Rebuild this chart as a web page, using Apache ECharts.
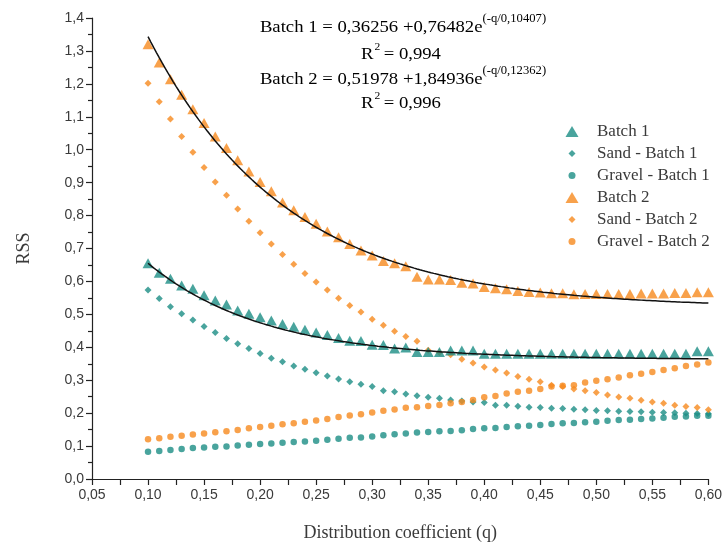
<!DOCTYPE html>
<html>
<head>
<meta charset="utf-8">
<script src="https://cdn.jsdelivr.net/npm/echarts@6/dist/echarts.min.js"></script>
<style>
  html, body { margin: 0; padding: 0; background: #fff; }
  #chart { width: 725px; height: 547px; }
</style>
</head>
<body>
<div id="chart"></div>
<script>
// Distribution coefficient q
const q = [0.10,0.11,0.12,0.13,0.14,0.15,0.16,0.17,0.18,0.19,
           0.20,0.21,0.22,0.23,0.24,0.25,0.26,0.27,0.28,0.29,
           0.30,0.31,0.32,0.33,0.34,0.35,0.36,0.37,0.38,0.39,
           0.40,0.41,0.42,0.43,0.44,0.45,0.46,0.47,0.48,0.49,
           0.50,0.51,0.52,0.53,0.54,0.55,0.56,0.57,0.58,0.59,
           0.60];

// RSS values per series
const batch1 = [0.655,0.626,0.608,0.588,0.578,0.558,0.542,0.530,0.512,0.502,
                0.491,0.481,0.471,0.462,0.453,0.445,0.437,0.428,0.420,0.419,
                0.408,0.407,0.396,0.399,0.386,0.386,0.386,0.390,0.390,0.390,
                0.380,0.380,0.380,0.380,0.380,0.380,0.380,0.380,0.380,0.380,
                0.380,0.380,0.380,0.380,0.380,0.380,0.380,0.380,0.380,0.388,
                0.388];
const sand1 = [0.574,0.548,0.523,0.502,0.483,0.463,0.445,0.427,0.411,0.396,
               0.381,0.367,0.356,0.343,0.333,0.323,0.313,0.304,0.295,0.288,
               0.281,0.268,0.265,0.258,0.253,0.248,0.245,0.240,0.237,0.234,
               0.232,0.224,0.224,0.221,0.218,0.217,0.215,0.214,0.212,0.210,
               0.208,0.207,0.206,0.205,0.204,0.203,0.202,0.201,0.200,0.199,
               0.198];
const gravel1 = [0.083,0.085,0.088,0.091,0.094,0.096,0.098,0.099,0.102,0.104,
                 0.106,0.108,0.110,0.112,0.114,0.116,0.119,0.122,0.125,0.126,
                 0.129,0.133,0.136,0.138,0.141,0.143,0.145,0.146,0.148,0.152,
                 0.154,0.155,0.158,0.160,0.162,0.164,0.167,0.169,0.170,0.172,
                 0.174,0.177,0.179,0.180,0.182,0.184,0.186,0.189,0.190,0.192,
                 0.192];
const batch2 = [1.320,1.265,1.214,1.167,1.123,1.081,1.040,1.005,0.968,0.934,
                0.902,0.874,0.840,0.816,0.796,0.775,0.752,0.734,0.714,0.694,
                0.679,0.662,0.655,0.646,0.614,0.606,0.606,0.604,0.596,0.594,
                0.583,0.579,0.576,0.571,0.568,0.566,0.564,0.564,0.561,0.562,
                0.562,0.562,0.562,0.562,0.563,0.563,0.563,0.565,0.565,0.567,
                0.567];
const sand2 = [1.202,1.146,1.093,1.040,0.992,0.946,0.902,0.862,0.820,0.783,
               0.748,0.714,0.682,0.652,0.624,0.598,0.574,0.549,0.527,0.507,
               0.485,0.467,0.449,0.433,0.418,0.391,0.384,0.377,0.364,0.352,
               0.340,0.331,0.322,0.311,0.303,0.295,0.285,0.281,0.273,0.268,
               0.263,0.255,0.249,0.245,0.239,0.234,0.230,0.224,0.220,0.217,
               0.210];
const gravel2 = [0.121,0.124,0.128,0.131,0.135,0.138,0.142,0.145,0.149,0.154,
                 0.158,0.162,0.166,0.169,0.174,0.178,0.182,0.188,0.193,0.197,
                 0.202,0.207,0.211,0.216,0.218,0.222,0.225,0.230,0.234,0.240,
                 0.248,0.252,0.260,0.265,0.268,0.273,0.281,0.283,0.285,0.293,
                 0.298,0.303,0.308,0.315,0.320,0.325,0.331,0.336,0.343,0.348,
                 0.354];

// Exponential fit coefficients y = a + b*exp(-q/t), as printed on the chart
const fit1 = [0.36256, 0.76482, 0.10407];
const fit2 = [0.51978, 1.84936, 0.12362];
const fitRange = [0.10, 0.60];

const yTicks = { min: 0, max: 1.4, interval: 0.1 };
const xTicks = { min: 0.05, max: 0.60, interval: 0.05 };

const TEAL = '#1c8d85';
const ORANGE = '#f68a1e';
const SERIF = '"Liberation Serif", "Times New Roman", serif';
const SANS = '"Liberation Sans", Arial, sans-serif';
const INK = '#3a3a3a';

const pts = arr => q.map((x, i) => [x, arr[i]]);

function fitCurve(c) {
  const out = [];
  const n = 200;
  for (let k = 0; k <= n; k++) {
    const x = fitRange[0] + (fitRange[1] - fitRange[0]) * k / n;
    out.push([x, c[0] + c[1] * Math.exp(-x / c[2])]);
  }
  return out;
}

const chart = echarts.init(document.getElementById('chart'), null, { renderer: 'canvas' });

// one legend block per row so each icon keeps its own size while texts line up
function legendFor(name, top, w, h) {
  const left = 572 - w / 2;
  return {
    data: [name],
    left: left,
    top: top,
    padding: 0,
    itemWidth: w,
    itemHeight: h,
    selectedMode: false,
    textStyle: {
      fontFamily: SERIF, fontSize: 17, color: INK,
      padding: [0, 0, 0, 597 - (left + w + 5)]
    }
  };
}

// fit equations: slightly widened serif text with raised exponents
function eqText(y, main, sup) {
  return {
    type: 'text',
    x: 403,
    y: y,
    scaleX: 1.1,
    style: {
      text: '{a|' + main + '}{s|' + sup + '}',
      textAlign: 'center',
      textVerticalAlign: 'middle',
      rich: {
        a: { fontFamily: SERIF, fontSize: 17, color: INK },
        s: { fontFamily: SERIF, fontSize: 11.5, color: INK, padding: [0, 0, 19, 0] }
      }
    }
  };
}
function r2Text(y, val) {
  return {
    type: 'text',
    x: 401,
    y: y,
    scaleX: 1.1,
    style: {
      text: '{a|R}{s|2}{a|= ' + val + '}',
      textAlign: 'center',
      textVerticalAlign: 'middle',
      rich: {
        a: { fontFamily: SERIF, fontSize: 17, color: INK },
        s: { fontFamily: SERIF, fontSize: 10.5, color: INK, padding: [0, 3, 15, 1] }
      }
    }
  };
}

const option = {
  backgroundColor: '#ffffff',
  animation: false,
  grid: { left: 92, right: 15, top: 18, bottom: 67, containLabel: false },
  xAxis: {
    type: 'value',
    min: xTicks.min,
    max: xTicks.max,
    interval: xTicks.interval,
    name: 'Distribution coefficient (q)',
    nameLocation: 'middle',
    nameGap: 45,
    nameTextStyle: { fontFamily: SERIF, fontSize: 18, color: INK },
    axisLine: { show: true, onZero: false, lineStyle: { color: '#222', width: 1.2 } },
    axisTick: { show: true, inside: false, length: 6, lineStyle: { color: '#222', width: 1.2 } },
    minorTick: { show: true, splitNumber: 2, length: 6, lineStyle: { color: '#222', width: 1.2 } },
    splitLine: { show: false },
    axisLabel: {
      fontFamily: SANS, fontSize: 14, color: INK, margin: 9,
      formatter: v => v.toFixed(2).replace('.', ',')
    }
  },
  yAxis: {
    type: 'value',
    min: yTicks.min,
    max: yTicks.max,
    interval: yTicks.interval,
    name: 'RSS',
    nameLocation: 'middle',
    nameGap: 59,
    nameRotate: 90,
    nameTextStyle: { fontFamily: SERIF, fontSize: 18, color: INK },
    axisLine: { show: true, lineStyle: { color: '#222', width: 1.2 } },
    axisTick: { show: true, inside: false, length: 6, lineStyle: { color: '#222', width: 1.2 } },
    minorTick: { show: true, splitNumber: 2, length: 4, lineStyle: { color: '#222', width: 1.2 } },
    splitLine: { show: false },
    axisLabel: {
      fontFamily: SANS, fontSize: 14, color: INK, margin: 8,
      formatter: v => v.toFixed(1).replace('.', ',')
    }
  },
  legend: [
    legendFor('Batch 1', 123, 13, 11),
    legendFor('Sand - Batch 1', 145, 7, 7),
    legendFor('Gravel - Batch 1', 167, 7, 7),
    legendFor('Batch 2', 189, 13, 11),
    legendFor('Sand - Batch 2', 211, 7, 7),
    legendFor('Gravel - Batch 2', 233, 7, 7)
  ],
  graphic: [
    eqText(28, 'Batch 1 = 0,36256 +0,76482e', '(-q/0,10407)'),
    r2Text(55, '0,994'),
    eqText(80, 'Batch 2 = 0,51978 +1,84936e', '(-q/0,12362)'),
    r2Text(104, '0,996')
  ],
  series: [
    { name: 'Batch 1', type: 'scatter', symbol: 'triangle', symbolSize: [11, 10],
      itemStyle: { color: TEAL }, data: pts(batch1), z: 3 },
    { name: 'Sand - Batch 1', type: 'scatter', symbol: 'diamond', symbolSize: 7,
      itemStyle: { color: TEAL }, data: pts(sand1), z: 2 },
    { name: 'Gravel - Batch 1', type: 'scatter', symbol: 'circle', symbolSize: 6.5,
      itemStyle: { color: TEAL }, data: pts(gravel1), z: 2 },
    { name: 'Batch 2', type: 'scatter', symbol: 'triangle', symbolSize: [11, 10],
      itemStyle: { color: ORANGE }, data: pts(batch2), z: 3 },
    { name: 'Sand - Batch 2', type: 'scatter', symbol: 'diamond', symbolSize: 7,
      itemStyle: { color: ORANGE }, data: pts(sand2), z: 2 },
    { name: 'Gravel - Batch 2', type: 'scatter', symbol: 'circle', symbolSize: 6.5,
      itemStyle: { color: ORANGE }, data: pts(gravel2), z: 2 },
    { name: 'Fit 1', type: 'line', showSymbol: false, symbol: 'none',
      lineStyle: { color: '#111', width: 1.5 }, data: fitCurve(fit1), z: 5, silent: true },
    { name: 'Fit 2', type: 'line', showSymbol: false, symbol: 'none',
      lineStyle: { color: '#111', width: 1.5 }, data: fitCurve(fit2), z: 5, silent: true }
  ]
};

chart.setOption(option);
</script>
</body>
</html>
